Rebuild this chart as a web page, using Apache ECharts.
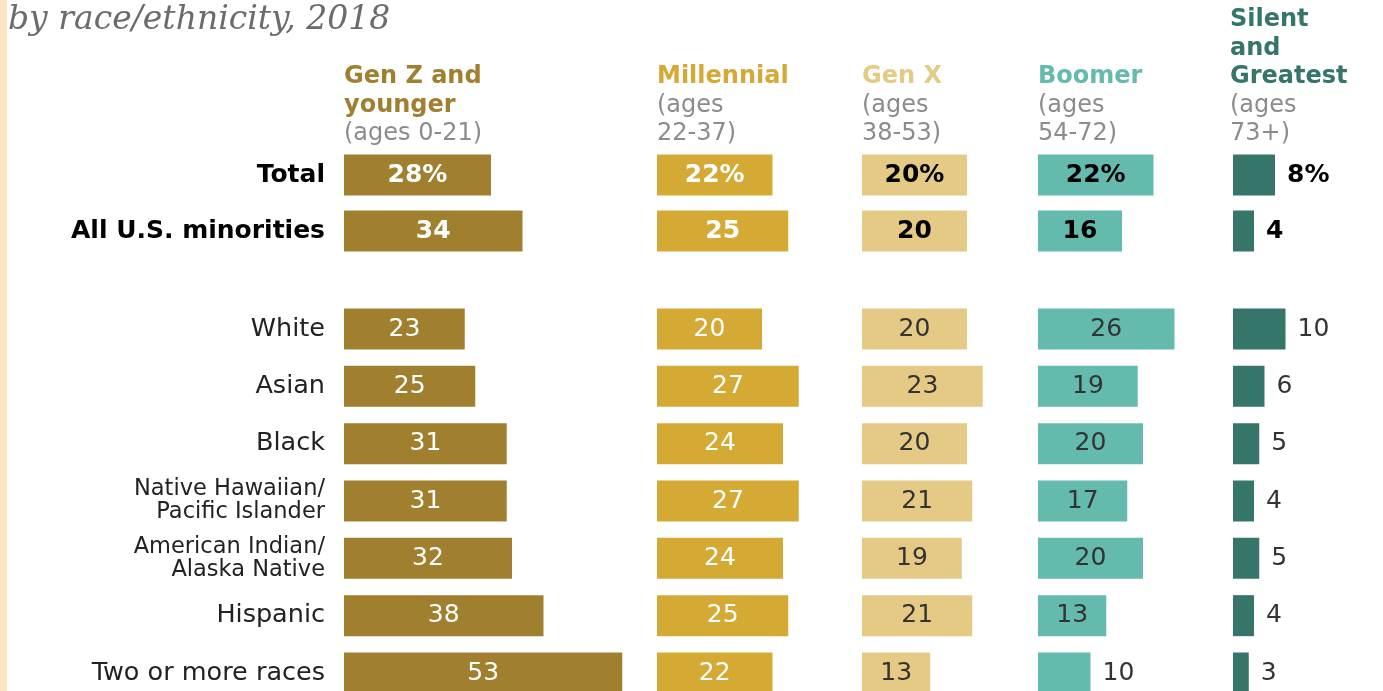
<!DOCTYPE html>
<html>
<head>
<meta charset="utf-8">
<script src="https://cdn.jsdelivr.net/npm/echarts@6/dist/echarts.min.js"></script>
<style>
html,body{margin:0;padding:0;background:#fff;}
#chart{width:1383px;height:691px;}
</style>
</head>
<body>
<div id="chart"></div>
<script>
// ---- data ----
const topCategories = ['Total', 'All U.S. minorities'];
const bottomCategories = ['White', 'Asian', 'Black', 'Native Hawaiian/\nPacific Islander', 'American Indian/\nAlaska Native', 'Hispanic', 'Two or more races'];
const genNames = ['Gen Z and\nyounger', 'Millennial', 'Gen X', 'Boomer', 'Silent\nand\nGreatest'];
const genAges = ['(ages 0-21)', '(ages\n22-37)', '(ages\n38-53)', '(ages\n54-72)', '(ages\n73+)'];
const genZTop = [28, 34];
const genZBottom = [23, 25, 31, 31, 32, 38, 53];
const millennialTop = [22, 25];
const millennialBottom = [20, 27, 24, 27, 24, 25, 22];
const genXTop = [20, 20];
const genXBottom = [20, 23, 20, 21, 19, 21, 13];
const boomerTop = [22, 16];
const boomerBottom = [26, 19, 20, 17, 20, 13, 10];
const silentTop = [8, 4];
const silentBottom = [10, 6, 5, 4, 5, 4, 3];

// ---- styling / layout ----
const FONT = 'DejaVu Sans';
const colors = ['#A0802F', '#D4AA35', '#E4CA84', '#65BAAE', '#35756A'];
const headerColors = ['#A0802F', '#D4AA35', '#E4CA84', '#65BAAE', '#35756A'];
const labelDark = [false, false, true, true, true];
const colLeft = [344, 657, 862, 1038, 1233];
const colWidth = [300, 190, 170, 190, 140];
const pxPerUnit = 5.25;
// category axes with boundaryGap:false -> first category on top edge, last on bottom edge
const topGrid = {top: 175, height: 56};
const bottomGrid = {top: 329, height: 344};
const headerTop = [63, 63, 63, 63, 6];

const tops = [genZTop, millennialTop, genXTop, boomerTop, silentTop];
const bottoms = [genZBottom, millennialBottom, genXBottom, boomerBottom, silentBottom];

const grid = [], xAxis = [], yAxis = [], series = [], titles = [];

titles.push({
  text: 'by race/ethnicity, 2018',
  left: 8, top: 4, padding: 0,
  textStyle: {fontFamily: 'DejaVu Serif', fontStyle: 'italic', fontWeight: 'normal', fontSize: 33, color: '#6b6b6b'}
});

function catData(list, isTop) {
  return list.map(c => {
    const twoLine = c.indexOf('\n') >= 0;
    return {
      value: c,
      textStyle: isTop
        ? {fontFamily: FONT, fontWeight: 'bold', fontSize: 25, color: '#000'}
        : {fontFamily: FONT, fontWeight: 'normal', fontSize: twoLine ? 22.5 : 25.5, lineHeight: twoLine ? 23 : 28, color: '#222'}
    };
  });
}

for (let i = 0; i < 5; i++) {
  const maxVal = colWidth[i] / pxPerUnit;
  [[topGrid, tops[i], topCategories, true], [bottomGrid, bottoms[i], bottomCategories, false]].forEach(([g, vals, cats, isTop]) => {
    const idx = grid.length;
    grid.push({left: colLeft[i], width: colWidth[i], top: g.top, height: g.height, containLabel: false});
    xAxis.push({type: 'value', gridIndex: idx, min: 0, max: maxVal, show: false});
    yAxis.push({
      type: 'category', gridIndex: idx, inverse: true, boundaryGap: false, data: catData(cats, isTop),
      show: i === 0,
      axisLine: {show: false}, axisTick: {show: false}, splitLine: {show: false},
      axisLabel: {show: i === 0, margin: 19, align: 'right'}
    });
    series.push({
      type: 'bar', xAxisIndex: idx, yAxisIndex: idx, barWidth: 41,
      itemStyle: {color: colors[i]},
      silent: true, animation: false, clip: false,
      data: vals.map((v, k) => {
        const outside = v < 12;
        const dark = labelDark[i] || outside;
        return {
          value: v,
          label: {
            show: true,
            position: outside ? 'right' : 'inside',
            distance: 12,
            fontFamily: FONT,
            fontSize: 25,
            fontWeight: isTop ? 'bold' : 'normal',
            color: dark ? (isTop ? '#000' : '#333') : '#fff',
            formatter: (isTop && k === 0) ? '{c}%' : '{c}'
          }
        };
      })
    });
  });
  const nameLines = genNames[i].split('\n').map(s => '{b|' + s + '}').join('\n');
  const ageLines = genAges[i].split('\n').map(s => '{g|' + s + '}').join('\n');
  titles.push({
    text: nameLines + '\n' + ageLines,
    left: colLeft[i] + (i === 4 ? -3 : 0), top: headerTop[i], padding: 0,
    textStyle: {
      rich: {
        b: {fontFamily: FONT, fontWeight: 'bold', fontSize: 24, color: headerColors[i], lineHeight: 28.5},
        g: {fontFamily: FONT, fontWeight: 'normal', fontSize: 24, color: '#8c8c8c', lineHeight: 28.5}
      }
    }
  });
}

const chart = echarts.init(document.getElementById('chart'), null, {renderer: 'canvas'});
chart.setOption({
  backgroundColor: '#ffffff',
  animation: false,
  title: titles,
  grid: grid,
  xAxis: xAxis,
  yAxis: yAxis,
  series: series,
  graphic: [{type: 'rect', left: 0, top: 0, shape: {width: 7, height: 691}, style: {fill: '#FDE6C0'}, silent: true}]
});
</script>
</body>
</html>
